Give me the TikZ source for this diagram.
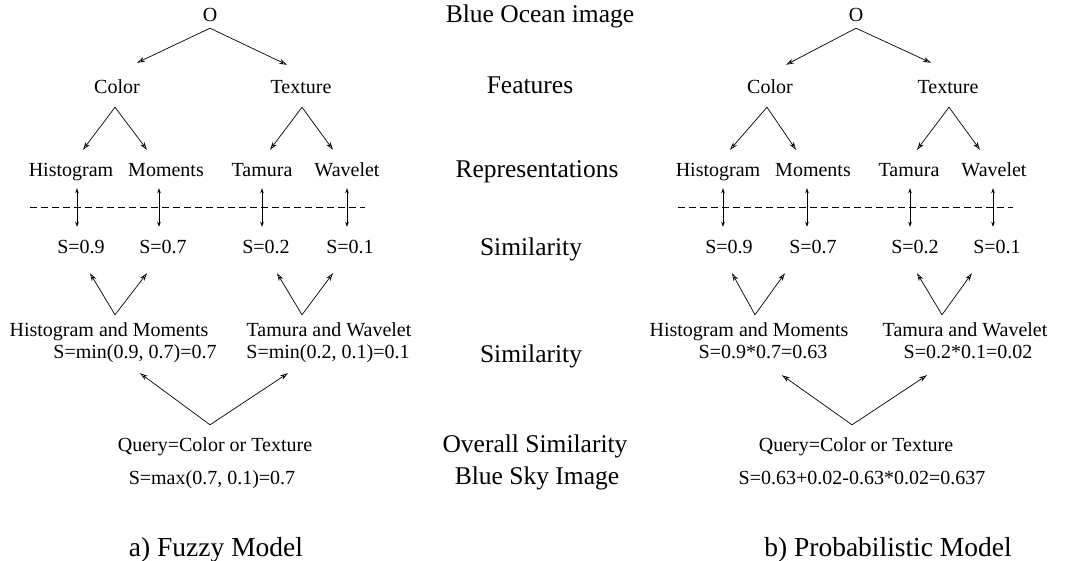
\documentclass[tikz,border=0pt]{standalone}
\usepackage{fontspec}
\setmainfont{Liberation Serif}
\usepackage{tikz}
\usetikzlibrary{arrows.meta}

\begin{document}
\begin{tikzpicture}[
    x=1pt, y=1pt,
    item/.style={inner sep=0pt, text height=14pt, text depth=0pt, font=\fontsize{20}{24}\selectfont},
    rowtitle/.style={inner sep=0pt, text height=17pt, text depth=0pt, font=\fontsize{25.5}{30}\selectfont},
    modelcap/.style={inner sep=0pt, text height=18pt, text depth=0pt, font=\fontsize{27.5}{32}\selectfont},
    arrow/.style={-{Stealth[length=8pt,width=5pt,open]}, line width=0.7pt},
    dblarrow/.style={{Stealth[length=5pt,width=3.5pt]}-{Stealth[length=5pt,width=3.5pt]}, line width=0.8pt},
    cut/.style={dash pattern=on 7pt off 4pt, line width=0.7pt}
  ]
    \useasboundingbox (0,0) rectangle (1066,560);

    % Row titles
    \node (t1) [rowtitle] at (540,546) {Blue Ocean image};
    \node (t2) [rowtitle] at (530,475) {Features};
    \node (t3) [rowtitle] at (537,391) {Representations};
    \node (t4) [rowtitle] at (531,313) {Similarity};
    \node (t5) [rowtitle] at (531,206) {Similarity};
    \node (t6) [rowtitle] at (535,116) {Overall Similarity};
    \node (t7) [rowtitle] at (537,84) {Blue Sky Image};

    % Fuzzy model
    \node (o1) [item] at (210,545) {O};
    \node (col1) [item] at (117,473) {Color};
    \node (tex1) [item] at (301,473) {Texture};
    \node (hist1) [item] at (71,390) {Histogram};
    \node (mom1) [item] at (166,390) {Moments};
    \node (tam1) [item] at (262,390) {Tamura};
    \node (wav1) [item] at (347,390) {Wavelet};
    \node (sh1) [item] at (81,313) {S=0.9};
    \node (sm1) [item] at (163,313) {S=0.7};
    \node (st1) [item] at (266,313) {S=0.2};
    \node (sw1) [item] at (350,313) {S=0.1};
    \node (hm1) [item] at (109,230) {Histogram and Moments};
    \node (hms1) [item] at (135,208) {S=min(0.9, 0.7)=0.7};
    \node (tw1) [item] at (329,230) {Tamura and Wavelet};
    \node (tws1) [item] at (328,208) {S=min(0.2, 0.1)=0.1};
    \node (q1) [item] at (215,115) {Query=Color or Texture};
    \node (qs1) [item] at (212,83) {S=max(0.7, 0.1)=0.7};
    \node (cap1) [modelcap] at (216,13) {a) Fuzzy Model};

    \draw [arrow] ([yshift=-6pt]o1.south) -- ([xshift=20pt,yshift=17pt]col1.north);
    \draw [arrow] ([yshift=-6pt]o1.south) -- ([xshift=-14pt,yshift=15pt]tex1.north);
    \draw [arrow] ([xshift=-2pt,yshift=-13pt]col1.south) -- ([xshift=12pt,yshift=13pt]hist1.north);
    \draw [arrow] ([xshift=-2pt,yshift=-13pt]col1.south) -- ([xshift=-19pt,yshift=13pt]mom1.north);
    \draw [arrow] ([xshift=1pt,yshift=-13pt]tex1.south) -- ([xshift=8pt,yshift=13pt]tam1.north);
    \draw [arrow] ([xshift=1pt,yshift=-13pt]tex1.south) -- ([xshift=-14pt,yshift=13pt]wav1.north);
    \draw [cut] (30,353) -- (365,353);
    \draw [dblarrow] ([xshift=6pt,yshift=-11pt]hist1.south) -- ([xshift=-4pt,yshift=13pt]sh1.north);
    \draw [dblarrow] ([xshift=-7pt,yshift=-11pt]mom1.south) -- ([xshift=-4pt,yshift=13pt]sm1.north);
    \draw [dblarrow] ([yshift=-11pt]tam1.south) -- ([xshift=-4pt,yshift=13pt]st1.north);
    \draw [dblarrow] ([yshift=-11pt]wav1.south) -- ([xshift=-3pt,yshift=13pt]sw1.north);
    \draw [arrow] ([xshift=6pt,yshift=8pt]hm1.north) -- ([xshift=9pt,yshift=-19pt]sh1.south);
    \draw [arrow] ([xshift=6pt,yshift=8pt]hm1.north) -- ([xshift=-16pt,yshift=-19pt]sm1.south);
    \draw [arrow] ([xshift=-27pt,yshift=8pt]tw1.north) -- ([xshift=11pt,yshift=-19pt]st1.south);
    \draw [arrow] ([xshift=-27pt,yshift=8pt]tw1.north) -- ([xshift=-17pt,yshift=-19pt]sw1.south);
    \draw [arrow] ([xshift=-5pt,yshift=13pt]q1.north) -- ([xshift=5pt,yshift=-14pt]hms1.south);
    \draw [arrow] ([xshift=-5pt,yshift=13pt]q1.north) -- ([xshift=-40pt,yshift=-14pt]tws1.south);

    % Probabilistic model
    \node (o2) [item] at (856,545) {O};
    \node (col2) [item] at (770,473) {Color};
    \node (tex2) [item] at (948,473) {Texture};
    \node (hist2) [item] at (718,390) {Histogram};
    \node (mom2) [item] at (813,390) {Moments};
    \node (tam2) [item] at (909,390) {Tamura};
    \node (wav2) [item] at (994,390) {Wavelet};
    \node (sh2) [item] at (729,313) {S=0.9};
    \node (sm2) [item] at (813,313) {S=0.7};
    \node (st2) [item] at (915,313) {S=0.2};
    \node (sw2) [item] at (997,313) {S=0.1};
    \node (hm2) [item] at (749,230) {Histogram and Moments};
    \node (hms2) [item] at (763,208) {S=0.9*0.7=0.63};
    \node (tw2) [item] at (965,230) {Tamura and Wavelet};
    \node (tws2) [item] at (968,208) {S=0.2*0.1=0.02};
    \node (q2) [item] at (856,115) {Query=Color or Texture};
    \node (qs2) [item] at (862,83) {S=0.63+0.02-0.63*0.02=0.637};
    \node (cap2) [modelcap] at (888,13) {b) Probabilistic Model};

    \draw [arrow] ([yshift=-6pt]o2.south) -- ([xshift=16pt,yshift=15pt]col2.north);
    \draw [arrow] ([yshift=-6pt]o2.south) -- ([xshift=-17pt,yshift=17pt]tex2.north);
    \draw [arrow] ([xshift=-3pt,yshift=-13pt]col2.south) -- ([xshift=12pt,yshift=13pt]hist2.north);
    \draw [arrow] ([xshift=-3pt,yshift=-13pt]col2.south) -- ([xshift=-17pt,yshift=13pt]mom2.north);
    \draw [arrow] ([xshift=1pt,yshift=-13pt]tex2.south) -- ([xshift=8pt,yshift=13pt]tam2.north);
    \draw [arrow] ([xshift=1pt,yshift=-13pt]tex2.south) -- ([xshift=-14pt,yshift=13pt]wav2.north);
    \draw [cut] (678,353) -- (1013,353);
    \draw [dblarrow] ([xshift=5pt,yshift=-11pt]hist2.south) -- ([xshift=-6pt,yshift=13pt]sh2.north);
    \draw [dblarrow] ([xshift=-6pt,yshift=-11pt]mom2.south) -- ([xshift=-6pt,yshift=13pt]sm2.north);
    \draw [dblarrow] ([xshift=1pt,yshift=-11pt]tam2.south) -- ([xshift=-5pt,yshift=13pt]st2.north);
    \draw [dblarrow] ([xshift=-1pt,yshift=-11pt]wav2.south) -- ([xshift=-4pt,yshift=13pt]sw2.north);
    \draw [arrow] ([xshift=6pt,yshift=8pt]hm2.north) -- ([xshift=3pt,yshift=-19pt]sh2.south);
    \draw [arrow] ([xshift=6pt,yshift=8pt]hm2.north) -- ([xshift=-28pt,yshift=-19pt]sm2.south);
    \draw [arrow] ([xshift=-23pt,yshift=8pt]tw2.north) -- ([xshift=2pt,yshift=-19pt]st2.south);
    \draw [arrow] ([xshift=-23pt,yshift=8pt]tw2.north) -- ([xshift=-25pt,yshift=-19pt]sw2.south);
    \draw [arrow] ([xshift=-4pt,yshift=13pt]q2.north) -- ([xshift=19pt,yshift=-16pt]hms2.south);
    \draw [arrow] ([xshift=-4pt,yshift=13pt]q2.north) -- ([xshift=-41pt,yshift=-16pt]tws2.south);
  \end{tikzpicture}
\end{document}
